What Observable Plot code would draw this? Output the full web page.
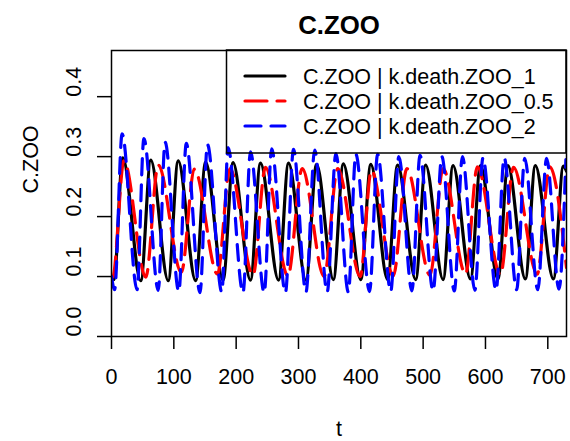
<!DOCTYPE html>
<html>
<head>
<meta charset="utf-8">
<script src="https://cdn.jsdelivr.net/npm/d3@7"></script>
<script src="https://cdn.jsdelivr.net/npm/@observablehq/plot@0.6"></script>
<style>
  html, body { margin: 0; padding: 0; background: white; }
</style>
</head>
<body>
<div id="chart"></div>
<script>
const title = "C.ZOO";
const xLabel = "t";
const yLabel = "C.ZOO";
const xTicks = [0, 100, 200, 300, 400, 500, 600, 700];
const yTicks = [0.0, 0.1, 0.2, 0.3, 0.4];
const seriesNames = ["C.ZOO | k.death.ZOO_1", "C.ZOO | k.death.ZOO_0.5", "C.ZOO | k.death.ZOO_2"];

// k.death.ZOO_1 (black) — extrema
const tBlack = [0, 4, 18, 47, 63, 91, 107, 135, 151, 179, 195, 223, 239, 268, 284, 312, 329, 356, 372, 400, 416, 443, 459, 488, 504, 532, 548, 576, 592, 620, 636, 664, 680, 709, 725, 730];
const vBlack = [0.100, 0.095, 0.298, 0.093, 0.294, 0.093, 0.293, 0.093, 0.291, 0.094, 0.290, 0.094, 0.289, 0.094, 0.289, 0.094, 0.287, 0.095, 0.288, 0.095, 0.287, 0.095, 0.286, 0.095, 0.286, 0.095, 0.285, 0.096, 0.285, 0.096, 0.285, 0.096, 0.285, 0.096, 0.284, 0.276];

// k.death.ZOO_0.5 (red)
const tRed = [0, 2, 20, 55, 75, 112, 133, 170, 190, 227, 247, 283, 306, 341, 363, 399, 417, 452, 474, 511, 532, 568, 587, 624, 645, 683, 703, 730];
const vRed = [0.100, 0.099, 0.293, 0.099, 0.286, 0.107, 0.279, 0.104, 0.280, 0.102, 0.282, 0.101, 0.280, 0.100, 0.280, 0.100, 0.277, 0.101, 0.280, 0.102, 0.280, 0.104, 0.283, 0.103, 0.282, 0.104, 0.283, 0.115];

// k.death.ZOO_2 (blue)
const tBlue = [0, 5, 17, 41, 52, 75, 86, 108, 120, 142, 154, 177, 187, 211, 223, 245, 257, 279, 292, 312, 326, 346, 360, 380, 392, 414, 427, 448, 461, 482, 495, 516, 530, 550, 563, 583, 596, 617, 630, 650, 663, 684, 698, 718, 729];
const vBlue = [0.100, 0.078, 0.338, 0.078, 0.330, 0.077, 0.324, 0.075, 0.322, 0.073, 0.320, 0.074, 0.315, 0.073, 0.308, 0.073, 0.313, 0.073, 0.312, 0.074, 0.311, 0.074, 0.305, 0.074, 0.304, 0.075, 0.304, 0.075, 0.300, 0.076, 0.302, 0.076, 0.300, 0.076, 0.300, 0.077, 0.298, 0.077, 0.298, 0.078, 0.297, 0.078, 0.297, 0.079, 0.295];

const toRows = (ts, vs) => ts.map((t, i) => ({t, v: vs[i]}));
const black = toRows(tBlack, vBlack);
const red = toRows(tRed, vRed);
const blue = toRows(tBlue, vBlue);

const styles = [
  {stroke: "#000000", dash: null},
  {stroke: "#FF0000", dash: "22,10"},
  {stroke: "#0000FF", dash: "16,10"}
];

const fontFamily = "'Liberation Sans', Arial, Helvetica, sans-serif";
const baseSize = 21.5;
const lw = 3.2;

const lineOpts = (s) => ({
  x: "t", y: "v", stroke: s.stroke, strokeWidth: lw, curve: "monotone-x",
  strokeDasharray: s.dash, strokeLinecap: "round", clip: true
});

const chart = Plot.plot({
  width: 570,
  height: 441,
  marginLeft: 111,
  marginRight: 4,
  marginTop: 50,
  marginBottom: 105,
  style: {fontFamily, fontSize: baseSize + "px", background: "white", color: "black", overflow: "visible"},
  x: {domain: [0, 730]},
  y: {domain: [0, 0.477]},
  marks: [
    Plot.line(black, lineOpts(styles[0])),
    Plot.line(red, lineOpts(styles[1])),
    Plot.line(blue, lineOpts(styles[2])),
    Plot.frame({stroke: "black", strokeWidth: 1.5}),
    Plot.axisX({ticks: xTicks, tickSize: 13, tickPadding: 19, label: null, strokeWidth: 1.5, tickFormat: d => String(d)}),
    Plot.axisY({ticks: yTicks, tickSize: 14, label: null, strokeWidth: 1.5, tickFormat: () => ""}),
    Plot.text(yTicks, {y: d => d, frameAnchor: "left", dx: -31, rotate: -90, lineAnchor: "bottom", text: d => d.toFixed(1)}),
    Plot.text([yLabel], {frameAnchor: "left", dx: -74, rotate: -90, lineAnchor: "bottom", text: d => d}),
    Plot.text([xLabel], {frameAnchor: "bottom", dy: 99, lineAnchor: "bottom", text: d => d}),
    Plot.text([title], {frameAnchor: "top", dy: -17, lineAnchor: "bottom", fontWeight: "bold", fontSize: 25.8, text: d => d})
  ]
});

// Legend (R-style boxed legend at top right of the plot region)
const svg = d3.select(chart);
const lg = svg.append("g")
  .attr("font-family", fontFamily)
  .attr("font-size", baseSize)
  .attr("text-anchor", "start");
lg.append("rect")
  .attr("x", 226.5).attr("y", 50).attr("width", 339.5).attr("height", 103)
  .attr("fill", "none").attr("stroke", "black").attr("stroke-width", 1.5);
seriesNames.forEach((name, i) => {
  const yy = 76 + 25 * i;
  lg.append("line")
    .attr("x1", 245).attr("x2", 285).attr("y1", yy).attr("y2", yy)
    .attr("stroke", styles[i].stroke).attr("stroke-width", lw)
    .attr("stroke-linecap", "round")
    .attr("stroke-dasharray", styles[i].dash);
  lg.append("text")
    .attr("x", 303).attr("y", yy + 7.5)
    .attr("fill", "black")
    .attr("text-anchor", "start")
    .text(name);
});

document.getElementById("chart").appendChild(chart);
</script>
</body>
</html>
